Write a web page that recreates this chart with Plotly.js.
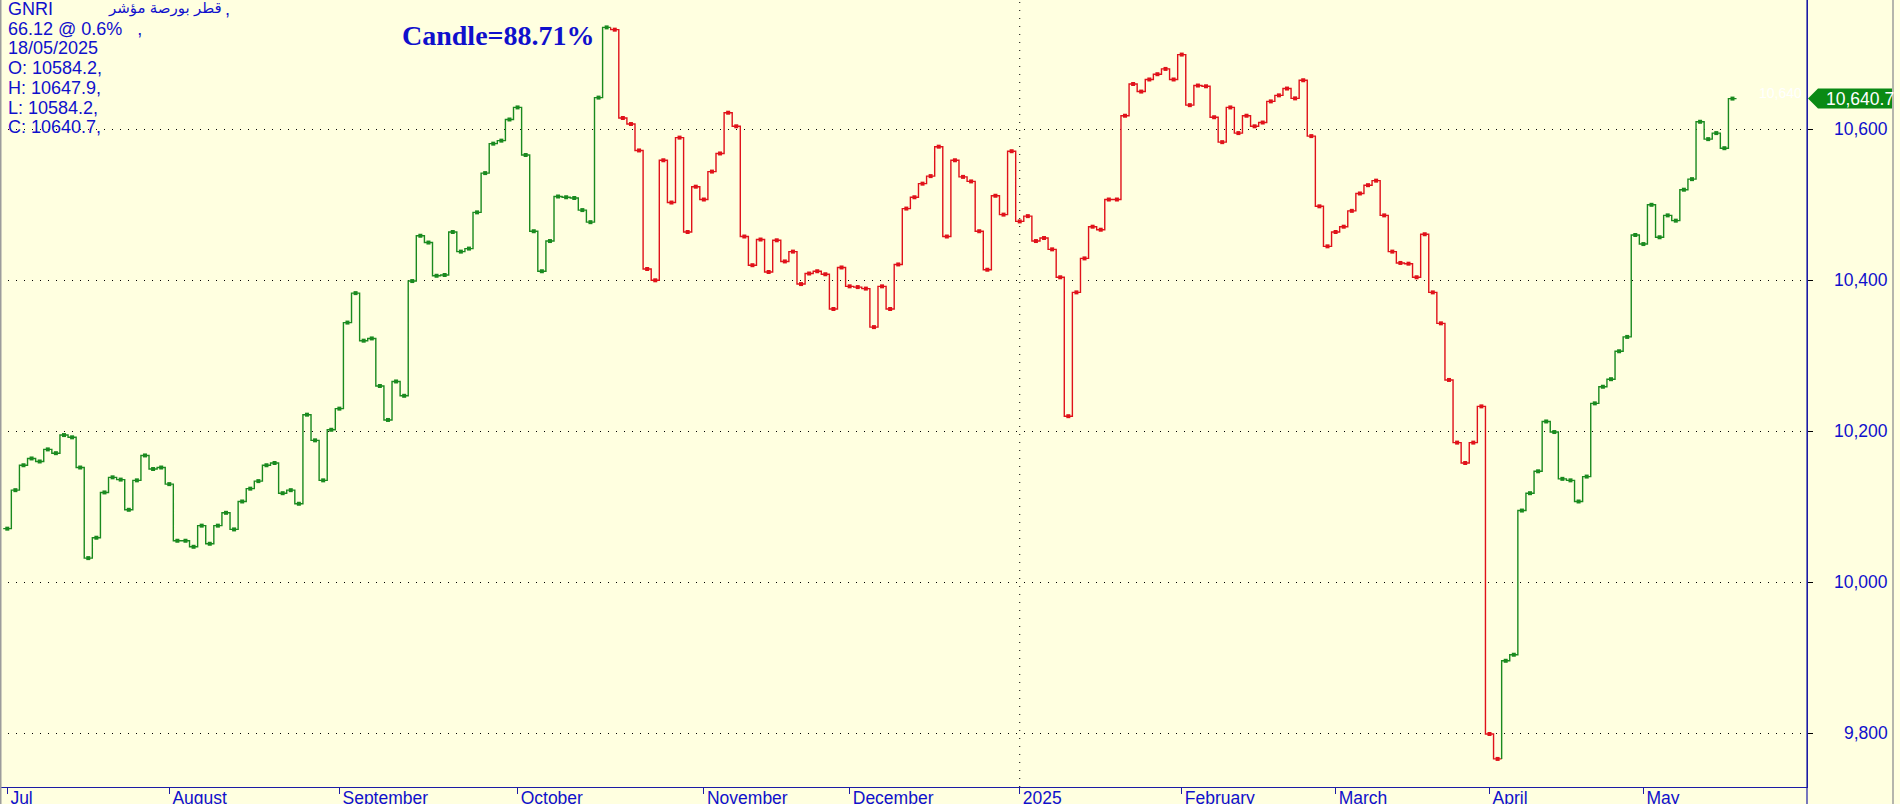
<!DOCTYPE html>
<html>
<head>
<meta charset="utf-8">
<script src="https://cdn.plot.ly/plotly-3.0.1.min.js"></script>
<style>
  html, body { margin: 0; padding: 0; background: #ffffe0; overflow: hidden; }
  #chart { width: 1900px; height: 804px; }
</style>
</head>
<body>
<div id="chart"></div>
<script>
// ---- data ----
const close = [
  10071, 10122, 10155, 10164, 10160, 10176, 10171, 10195, 10192, 10152,
  10032, 10059, 10119, 10139, 10136, 10096, 10135, 10168, 10150, 10152,
  10130, 10055, 10055, 10047, 10075, 10051, 10075, 10092, 10070, 10107,
  10124, 10134, 10155, 10158, 10118, 10122, 10104, 10222, 10188, 10135,
  10202, 10230, 10344, 10383, 10320, 10323, 10260, 10215, 10266, 10247,
  10399, 10459, 10450, 10406, 10407, 10464, 10438, 10442, 10490, 10542,
  10581, 10585, 10613, 10629, 10566, 10465, 10412, 10452, 10511, 10510,
  10509, 10493, 10477, 10642, 10735, 10732, 10615, 10607, 10572, 10415,
  10400, 10559, 10503, 10589, 10464, 10524, 10507, 10544, 10568, 10622,
  10604, 10458, 10420, 10454, 10411, 10453, 10425, 10438, 10395, 10409,
  10412, 10408, 10362, 10417, 10392, 10391, 10389, 10338, 10392, 10362,
  10421, 10495, 10510, 10528, 10538, 10577, 10458, 10559, 10537, 10531,
  10465, 10414, 10512, 10487, 10571, 10478, 10485, 10452, 10456, 10441,
  10404, 10220, 10384, 10429, 10471, 10467, 10507, 10507, 10618, 10660,
  10650, 10666, 10673, 10680, 10666, 10699, 10632, 10658, 10657, 10616,
  10583, 10629, 10595, 10618, 10604, 10609, 10637, 10645, 10654, 10641,
  10665, 10591, 10498, 10445, 10464, 10471, 10492, 10515, 10526, 10532,
  10486, 10438, 10423, 10422, 10404, 10461, 10384, 10343, 10268, 10185,
  10158, 10185, 10233, 9799, 9766, 9896, 9904, 10095, 10118, 10147,
  10213, 10199, 10137, 10135, 10107, 10140, 10237, 10259, 10269, 10306,
  10325, 10460, 10448, 10500, 10457, 10486, 10479, 10520, 10534, 10610,
  10587, 10595, 10575, 10640.7
];
// trend state of each stretch of trading days (1-based day numbers)
const trendFrom = [1, 76, 186];
const trendTo   = [75, 185, 214];
const trendDir  = ['up', 'down', 'up'];

// month axis: first trading day of each month and its label
const monthDay  = [1, 21, 42, 64, 87, 105, 126, 146, 165, 184, 203];
const monthText = ['Jul', 'August', 'September', 'October', 'November', 'December',
                   '2025', 'February', 'March', 'April', 'May'];
const yearBreakLabel = '2025';

const priceTicks = [9800, 10000, 10200, 10400, 10600];

const infoLines = ['GNRI', '66.12 @ 0.6%\u00a0\u00a0\u00a0,', '18/05/2025',
                   'O: 10584.2,', 'H: 10647.9,', 'L: 10584.2,', 'C: 10640.7,'];
// word order as it appears (left to right) in the reference
const indexName = 'قطر بورصة مؤشر';
const candleText = 'Candle=88.71%';

// ---- styles ----
const COLORS = { up: '#1a8a1f', down: '#e0121a' };
const BLUE = '#1010cc';
const AXIS_BLUE = '#1c1ca6';
const BG = '#ffffe0';
const SANS = 'Liberation Sans, Arial, DejaVu Sans, sans-serif';

const W = 1900, H = 804;
const M = { l: 0, r: 93, t: 0, b: 17 };
const plotW = W - M.l - M.r, plotH = H - M.t - M.b;
const px = v => v / plotW;            // pixel -> paper x
const py = v => 1 - v / plotH;        // pixel from top -> paper y

const days = close.map((_, i) => i + 1);
const traces = [];
for (let r = 0; r < trendFrom.length; r++) {
  const a = trendFrom[r], b = trendTo[r];
  const col = COLORS[trendDir[r]];
  const xs = [a - 0.5], ys = [a > 1 ? close[a - 2] : close[a - 1]];
  for (let i = a; i <= b; i++) { xs.push(i + 0.5); ys.push(close[i - 1]); }
  traces.push({ x: xs, y: ys, type: 'scatter', mode: 'lines',
    line: { shape: 'vh', color: col, width: 1.4 }, hoverinfo: 'skip', showlegend: false });
  traces.push({ x: days.slice(a - 1, b), y: close.slice(a - 1, b), type: 'scatter', mode: 'markers',
    marker: { symbol: 'square', size: 4, color: col, line: { width: 0 } }, hoverinfo: 'skip', showlegend: false });
}

const last = close[close.length - 1];
const fmt = v => v.toLocaleString('en-US');
const annotations = [];
infoLines.forEach((t, i) => annotations.push({
  text: t, xref: 'paper', yref: 'paper', x: px(6), y: py(9 + 19.7 * i),
  xanchor: 'left', yanchor: 'middle', showarrow: false, align: 'left',
  font: { family: SANS, size: 18, color: BLUE }
}));
annotations.push({ text: indexName, xref: 'paper', yref: 'paper', x: px(106), y: py(8),
  xanchor: 'left', yanchor: 'middle', showarrow: false,
  font: { family: SANS, size: 15, color: BLUE } });
annotations.push({ text: ',', xref: 'paper', yref: 'paper', x: px(223), y: py(9),
  xanchor: 'left', yanchor: 'middle', showarrow: false,
  font: { family: SANS, size: 18, color: BLUE } });
annotations.push({ text: candleText, xref: 'paper', yref: 'paper', x: px(400), y: py(36),
  xanchor: 'left', yanchor: 'middle', showarrow: false,
  font: { family: 'Liberation Serif, Times New Roman, serif', size: 28, weight: 'bold', color: BLUE } });
priceTicks.forEach(v => annotations.push({ text: fmt(v), xref: 'paper', yref: 'y', x: px(1890), y: v,
  xanchor: 'right', yanchor: 'middle', showarrow: false,
  font: { family: SANS, size: 17.5, color: BLUE } }));
annotations.push({ text: fmt(Math.floor(last)), xref: 'paper', yref: 'y', x: px(1804), y: last, yshift: 6,
  xanchor: 'right', yanchor: 'middle', showarrow: false,
  font: { family: SANS, size: 14, color: '#ffffff' } });
annotations.push({ text: fmt(last), xref: 'paper', yref: 'y', x: px(1824), y: last,
  xanchor: 'left', yanchor: 'middle', showarrow: false,
  font: { family: SANS, size: 17.5, color: '#ffffff' } });

const shapes = [
  // year separator
  { type: 'line', xref: 'x', yref: 'paper', x0: monthDay[monthText.indexOf(yearBreakLabel)],
    x1: monthDay[monthText.indexOf(yearBreakLabel)], y0: 0, y1: 1,
    line: { color: '#000000', width: 1, dash: '1px,7px' } },
  // price flag
  { type: 'path', xref: 'paper', yref: 'y', xsizemode: 'pixel', ysizemode: 'pixel',
    xanchor: 1, yanchor: last, path: 'M 1 0 L 11 10 L 85 10 L 85 -10 L 11 -10 Z',
    fillcolor: '#0a8a14', line: { width: 0 } },
  // right axis line continuing below the plot
  { type: 'line', xref: 'paper', yref: 'paper', x0: 1, x1: 1, y0: -0.03, y1: 1,
    line: { color: AXIS_BLUE, width: 1.2 } },
  // window borders
  { type: 'line', xref: 'paper', yref: 'paper', x0: px(0.5), x1: px(0.5), y0: -0.03, y1: 1,
    line: { color: '#9c9c9c', width: 2 } },
  { type: 'line', xref: 'paper', yref: 'paper', x0: px(1893), x1: px(1893), y0: -0.03, y1: 1,
    line: { color: '#9c9c9c', width: 1.5 } }
];

const layout = {
  width: W, height: H, margin: { l: M.l, r: M.r, t: M.t, b: M.b, pad: 0 },
  paper_bgcolor: BG, plot_bgcolor: BG, showlegend: false,
  xaxis: {
    range: [0.1, 223.2], tickmode: 'array', tickvals: monthDay, ticktext: monthText,
    showgrid: false, zeroline: false, showline: true, linecolor: AXIS_BLUE, linewidth: 1.2,
    ticks: 'outside', ticklen: 6, tickcolor: AXIS_BLUE, tickwidth: 1,
    ticklabelposition: 'outside right', ticklabelshift: 2, ticklabelstandoff: -5,
    tickfont: { family: SANS, size: 17.5, color: BLUE }, fixedrange: true
  },
  yaxis: {
    side: 'right', range: [9728.8, 10771.3], tickmode: 'array', tickvals: priceTicks,
    showticklabels: false, showgrid: true, gridcolor: '#000000', gridwidth: 1, griddash: '1px,7px',
    zeroline: false, showline: true, linecolor: AXIS_BLUE, linewidth: 1.2,
    ticks: 'outside', ticklen: 5, tickcolor: '#000000', fixedrange: true
  },
  annotations, shapes
};

Plotly.newPlot('chart', traces, layout, { staticPlot: true, displayModeBar: false });
</script>
</body>
</html>
